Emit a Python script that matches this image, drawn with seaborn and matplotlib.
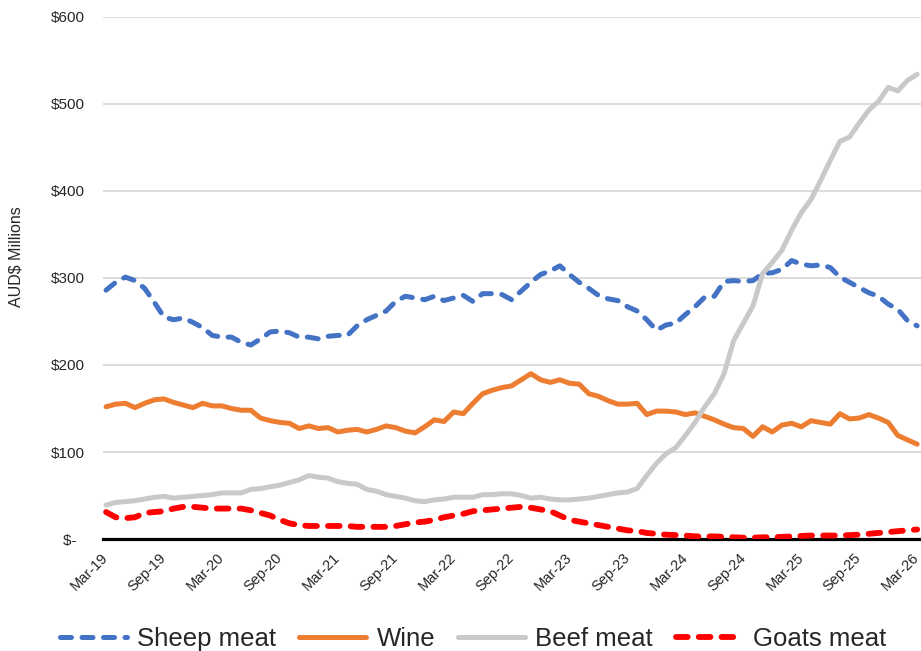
import pandas as pd
import matplotlib.pyplot as plt
import seaborn as sns

# monthly values, Mar-19 .. Mar-26 (AUD$ millions)
months = pd.date_range("2019-03-01", periods=85, freq="MS").strftime("%b-%y").tolist()

sheep = [286, 295, 301, 297, 288, 272, 255, 252, 254, 249,
         243, 234, 232, 232, 226, 223, 230, 238, 239, 237,
         232, 232, 230, 233, 234, 234, 245, 252, 257, 262,
         273, 279, 277, 275, 279, 274, 277, 280, 273, 282,
         282, 281, 275, 285, 295, 304, 308, 314, 304, 295,
         288, 280, 276, 274, 267, 262, 252, 240, 246, 248,
         258, 267, 278, 279, 296, 297, 296, 297, 305, 306,
         310, 320, 316, 314, 315, 312, 301, 295, 289, 283,
         279, 270, 264, 251, 245]

wine = [152, 155, 156, 151, 156, 160, 161, 157, 154, 151,
        156, 153, 153, 150, 148, 148, 139, 136, 134, 133,
        127, 130, 127, 128, 123, 125, 126, 123, 126, 130,
        128, 124, 122, 129, 137, 135, 146, 144, 156, 167,
        171, 174, 176, 183, 190, 183, 180, 183, 179, 178,
        167, 164, 159, 155, 155, 156, 143, 147, 147, 146,
        143, 145, 141, 137, 132, 128, 127, 118, 129, 123,
        131, 133, 129, 136, 134, 132, 144, 138, 139, 143,
        139, 134, 119, 114, 109]

beef = [39, 42, 43, 44, 46, 48, 49, 47, 48, 49,
        50, 51, 53, 53, 53, 57, 58, 60, 62, 65,
        68, 73, 71, 70, 66, 64, 63, 57, 55, 51,
        49, 47, 44, 43, 45, 46, 48, 48, 48, 51,
        51, 52, 52, 50, 47, 48, 46, 45, 45, 46,
        47, 49, 51, 53, 54, 58, 73, 87, 98, 105,
        119, 134, 152, 167, 190, 228, 248, 268, 305, 318,
        332, 355, 375, 390, 412, 435, 457, 462, 478, 493,
        503, 519, 515, 527, 534]

goats = [31, 25, 24, 25, 30, 31, 32, 35, 37, 37,
         36, 35, 35, 35, 35, 33, 30, 27, 22, 18,
         16, 15, 15, 15, 15, 15, 14, 14, 14, 14,
         15, 17, 19, 20, 22, 25, 27, 29, 32, 33,
         34, 35, 36, 37, 36, 34, 32, 27, 22, 20,
         18, 16, 14, 12, 10, 9, 7, 6, 5, 4.5,
         4, 3, 3, 3, 2.5, 2, 1.5, 1.5, 2, 2,
         2.5, 3, 3.5, 4, 4, 4, 4, 4.5, 5, 6,
         7, 8, 9, 10, 11]

df = pd.DataFrame({"month": range(len(months)), "Sheep meat": sheep,
                   "Wine": wine, "Beef meat": beef, "Goats meat": goats})

styles = {
    "Sheep meat": ("#4472C4", 3.6, (2.2, 2.1)),
    "Wine": ("#ED7D31", 3.6, None),
    "Beef meat": ("#C9C9C9", 3.6, None),
    "Goats meat": ("#FF0000", 4.2, (2.0, 1.9)),
}

sns.set_theme(style="white")
plt.rcParams["font.family"] = ["Liberation Sans", "DejaVu Sans"]

fig = plt.figure(figsize=(9.21, 6.51), dpi=100)
ax = fig.add_axes([0.112, 0.172, 0.888, 0.802])

for name, (col, lw, dash) in styles.items():
    sns.lineplot(data=df, x="month", y=name, ax=ax, color=col,
                 linewidth=lw, label=name, zorder=3)
    line = ax.lines[-1]
    line.set_solid_capstyle("round")
    line.set_solid_joinstyle("round")
    if dash:
        line.set_dashes(dash)
        line.set_dash_capstyle("round")

ax.get_legend().remove()

ax.set_xlim(-0.3, 84.4)
ax.set_ylim(0, 600)
ax.set_yticks(range(0, 601, 100))
ax.set_yticklabels(["$-  "] + [f"${v}" for v in range(100, 601, 100)], fontsize=11)
ax.set_xticks(range(0, 85, 6))
ax.set_xticklabels(months[::6], rotation=45, ha="right", va="center",
                   rotation_mode="anchor", fontsize=10.5)
ax.tick_params(axis="y", length=0, pad=13)
ax.tick_params(axis="x", length=0, pad=12)

ax.grid(axis="y", color="#D9D9D9", linewidth=1.3)
ax.set_axisbelow(True)
for s in ["top", "right", "left"]:
    ax.spines[s].set_visible(False)
ax.spines["bottom"].set_color("black")
ax.spines["bottom"].set_linewidth(2.3)

ax.set_xlabel("")
ax.set_ylabel("AUD$ Millions", fontsize=11.5)
ax.yaxis.set_label_coords(-0.098, 0.54)

handles, labels = ax.get_legend_handles_labels()
fig.legend(handles, labels, loc="center", bbox_to_anchor=(0.514, 0.018), ncol=4,
           frameon=False, fontsize=18.5, handlelength=2.6, handletextpad=0.4,
           columnspacing=0.9, borderpad=0)

fig.savefig("out.png", dpi=100)
